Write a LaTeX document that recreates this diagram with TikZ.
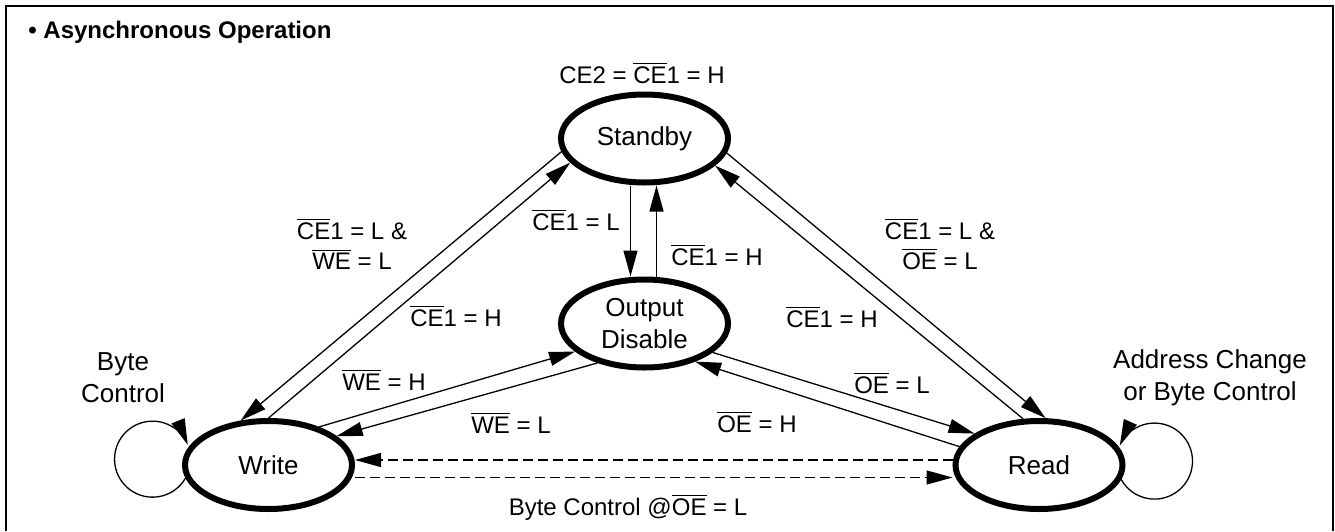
\documentclass[tikz,border=0pt]{standalone}
\usepackage{fontspec}
\setmainfont{Liberation Sans}
\usetikzlibrary{shapes.geometric,arrows.meta}
\newcommand{\ovl}[1]{$\overline{\mbox{#1}}$}
\tikzset{
	state/.style={draw, ellipse, line width=3pt, minimum width=83.5pt, minimum height=44pt, inner sep=0pt, align=center, font=\fontsize{13}{16}\selectfont},
	cond/.style={inner sep=0pt, align=center, font=\fontsize{12}{15}\selectfont},
	loopcond/.style={inner sep=0pt, align=center, font=\fontsize{13}{16}\selectfont},
	trans/.style={line width=0.65pt, -{Triangle[length=13pt,width=7pt]}},
	bytetrans/.style={trans, dash pattern=on 5pt off 2.5pt}
}

\begin{document}
\begin{tikzpicture}[x=0.5pt,y=-0.5pt]
			\useasboundingbox (0,0) rectangle (1335,531);

			% Frame and title
			\draw[line width=1pt] (6,531) -- (6,6) -- (1333,6) -- (1333,531);
			\node[anchor=base west, inner sep=0pt, font=\fontsize{12}{15}\selectfont\bfseries] (title) at (28,38) {\textbullet\ Asynchronous Operation};

			% States
			\node[state] (standby) at (644.5,138.5) {Standby};
			\node[state] (output) at (644.5,323.5) {Output\\Disable};
			\node[state] (write) at (268.5,465) {Write};
			\node[state] (read) at (1039,465) {Read};
			\node[cond, anchor=base] (idle) at (642,83) {CE2 = \ovl{CE}1 = H};

			% Standby <-> Write
			\draw[trans] (standby.189) -- (write.122);
			\draw[trans] (write.90) -- (standby.198);
			\node[cond] (sw) at (352,244) {\ovl{CE}1 = L \&\\\ovl{WE} = L};
			\node[cond, anchor=base] (ws) at (456,326) {\ovl{CE}1 = H};

			% Standby <-> Output Disable
			\draw[trans] ([xshift=-7pt]standby.south) -- ([xshift=-7pt]output.north);
			\draw[trans] ([xshift=6pt]output.north) -- ([xshift=6pt]standby.south);
			\node[cond, anchor=base] (so) at (576,230) {\ovl{CE}1 = L};
			\node[cond, anchor=base] (os) at (717,265) {\ovl{CE}1 = H};

			% Standby <-> Read
			\draw[trans] (standby.350) -- (read.82);
			\draw[trans] (read.109) -- (standby.339);
			\node[cond] (sr) at (940,244) {\ovl{CE}1 = L \&\\\ovl{OE} = L};
			\node[cond, anchor=base] (rs) at (832,327) {\ovl{CE}1 = H};

			% Write <-> Output Disable
			\draw[trans] (write.37) -- (output.202);
			\draw[trans] (output.220) -- (write.23);
			\node[cond, anchor=base] (wo) at (384,390) {\ovl{WE} = H};
			\node[cond, anchor=base] (ow) at (511,433) {\ovl{WE} = L};

			% Output Disable <-> Read
			\draw[trans] (output.337) -- (read.154);
			\draw[trans] (read.167) -- (output.323);
			\node[cond, anchor=base] (or) at (892,393) {\ovl{OE} = L};
			\node[cond, anchor=base] (ro) at (757,432) {\ovl{OE} = H};

			% Write <-> Read
			\draw[bytetrans] ([yshift=2.5pt]read.west) -- ([yshift=2.5pt]write.east);
			\draw[bytetrans] ([yshift=-6.25pt]write.east) -- ([yshift=-6.25pt]read.west);
			\node[cond, anchor=base] (wr) at (628,515) {Byte Control @\ovl{OE} = L};

			% Self loops
			\draw[trans] (write.189) arc[start angle=-30, end angle=-338, radius=19pt];
			\node[loopcond] (wloop) at (123,378) {Byte\\Control};
			\draw[trans] (read.350) arc[start angle=-151, end angle=156, radius=19pt];
			\node[loopcond] (rloop) at (1210,378) {Address Change\\or Byte Control};
		\end{tikzpicture}
\end{document}
